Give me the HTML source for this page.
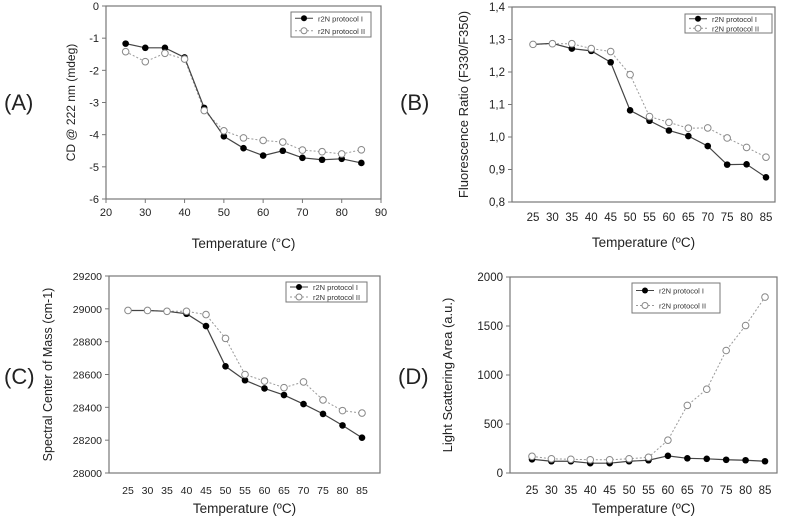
<!DOCTYPE html>
<html><head><meta charset="utf-8"><style>
body{margin:0;background:#fff;}
svg{display:block;font-family:"Liberation Sans",Arial,sans-serif;}
</style></head><body>
<svg id="fig" width="789" height="520" viewBox="0 0 789 520"></svg>
<script>
const temps = [25,30,35,40,45,50,55,60,65,70,75,80,85];
const aTicksY = [0,-1,-2,-3,-4,-5,-6];
const aTicksX = [20,30,40,50,60,70,80,90];
const aSeries1 = [-1.17,-1.3,-1.3,-1.6,-3.17,-4.05,-4.42,-4.65,-4.5,-4.72,-4.78,-4.75,-4.88];
const aSeries2 = [-1.42,-1.73,-1.47,-1.65,-3.25,-3.88,-4.1,-4.18,-4.23,-4.48,-4.53,-4.6,-4.47];
const bTicksY = ["1,4","1,3","1,2","1,1","1,0","0,9","0,8"];
const bSeries1 = [1.285,1.288,1.272,1.265,1.23,1.082,1.05,1.02,1.003,0.972,0.915,0.916,0.876];
const bSeries2 = [1.285,1.287,1.287,1.272,1.263,1.192,1.063,1.045,1.027,1.028,0.997,0.968,0.938];
const cTicksY = [29200,29000,28800,28600,28400,28200,28000];
const cSeries1 = [28990,28990,28985,28970,28895,28650,28565,28515,28475,28420,28360,28290,28215];
const cSeries2 = [28990,28990,28985,28985,28965,28820,28600,28560,28520,28555,28445,28380,28365];
const dTicksY = [2000,1500,1000,500,0];
const dSeries1 = [140,120,120,100,100,120,130,175,150,145,135,130,120];
const dSeries2 = [170,145,140,135,135,145,160,335,690,855,1250,1505,1795];
const seriesNames = ["r2N protocol I","r2N protocol II"];

const NS="http://www.w3.org/2000/svg";
const svg=document.getElementById('fig');
function mk(tag,attrs,parent,txt){const e=document.createElementNS(NS,tag);for(const k in attrs)e.setAttribute(k,attrs[k]);if(txt!==undefined)e.textContent=txt;(parent||svg).appendChild(e);return e;}

const panels=[
 {id:'a',label:'(A)',lx:4,ly:110,box:[106,6,381,199],ymin:-6,ymax:0,yt:aTicksY.map(v=>[v,String(v)]),
  xnum:true,xmin:20,xmax:90,xt:aTicksX,s1:aSeries1,s2:aSeries2,ytitle:'CD @ 222 nm (mdeg)',ytx:75,xtitle:'Temperature (°C)',xty:248,xtly:216,
  leg:[291,12,371,37],fs:11,tfs:12},
 {id:'b',label:'(B)',lx:400,ly:110,box:[512,7,775,202],ymin:0.8,ymax:1.4,yt:bTicksY.map(s=>[parseFloat(s.replace(',','.')),s]),
  xnum:false,x0:533,x1:766,s1:bSeries1,s2:bSeries2,ytitle:'Fluorescence Ratio (F330/F350)',ytx:468,xtitle:'Temperature (ºC)',xty:247,xtly:221,
  leg:[685,14,772,33],fs:11.5,tfs:13},
 {id:'c',label:'(C)',lx:4,ly:384,box:[109,276,380,473],ymin:28000,ymax:29200,yt:cTicksY.map(v=>[v,String(v)]),
  xnum:false,x0:128,x1:362,s1:cSeries1,s2:cSeries2,ytitle:'Spectral Center of Mass (cm-1)',ytx:52,xtitle:'Temperature (ºC)',xty:513,xtly:494,
  leg:[286,282,367,302],fs:10.5,tfs:12.5},
 {id:'d',label:'(D)',lx:398,ly:384,box:[510,277,777,473],ymin:0,ymax:2000,yt:dTicksY.map(v=>[v,String(v)]),
  xnum:false,x0:532,x1:765,s1:dSeries1,s2:dSeries2,ytitle:'Light Scattering Area (a.u.)',ytx:452,xtitle:'Temperature (ºC)',xty:513,xtly:494,
  leg:[632,283,720,313],fs:11.5,tfs:13}
];

panels.forEach(p=>{
 const g=mk('g',{});
 
 
 const [L,T,R,B]=p.box;
 const ys=v=>B-(v-p.ymin)/(p.ymax-p.ymin)*(B-T);
 const xs=p.xnum?(v=>L+(v-p.xmin)/(p.xmax-p.xmin)*(R-L)):(i=>p.x0+i*(p.x1-p.x0)/(temps.length-1));
 const xAt=i=>p.xnum?xs(temps[i]):xs(i);
 const lab=mk('text',{x:p.lx,y:p.ly,'font-size':22,fill:'#222'},g,p.label);
 
 
 const box=mk('rect',{x:L,y:T,width:R-L,height:B-T,fill:'none',stroke:'#777','stroke-width':1.2},g);
 
 
 p.yt.forEach(([v,s])=>{const y=ys(v);mk('line',{x1:L-4,x2:L,y1:y,y2:y,stroke:'#777'},g);
  const t=mk('text',{x:L-7,y:y+4,'font-size':p.fs,'text-anchor':'end',fill:'#222'},g,s);
  
  });
 if(p.xnum){p.xt.forEach(v=>{const x=xs(v);mk('line',{x1:x,x2:x,y1:B,y2:B+4,stroke:'#777'},g);
  const t=mk('text',{x:x,y:p.xtly,'font-size':p.fs,'text-anchor':'middle',fill:'#222'},g,String(v));
  
  });}
 else{temps.forEach((v,i)=>{const x=xs(i);
  const t=mk('text',{x:x,y:p.xtly,'font-size':p.fs,'text-anchor':'middle',fill:'#222'},g,String(v));
  
  });}
 const yt=mk('text',{x:0,y:0,'font-size':p.tfs,'text-anchor':'middle',fill:'#222',transform:`translate(${p.ytx},${(T+B)/2}) rotate(-90)`},g,p.ytitle);
 
 
 const xt=mk('text',{x:(L+R)/2,y:p.xty,'font-size':13.5,'text-anchor':'middle',fill:'#222'},g,p.xtitle);
 
 
 const pts2=p.s2.map((v,i)=>xAt(i)+','+ys(v)).join(' ');
 const l2=mk('polyline',{points:pts2,fill:'none',stroke:'#999','stroke-width':1,'stroke-dasharray':'2,2'},g);
 
 
 const pts1=p.s1.map((v,i)=>xAt(i)+','+ys(v)).join(' ');
 const l1=mk('polyline',{points:pts1,fill:'none',stroke:'#444','stroke-width':1.2},g);
 
 
 p.s1.forEach((v,i)=>{const c=mk('circle',{cx:xAt(i),cy:ys(v),r:3.3,fill:'#000'},g);
  
  });
 p.s2.forEach((v,i)=>{const c=mk('circle',{cx:xAt(i),cy:ys(v),r:3.3,fill:'#fff',stroke:'#888','stroke-width':1},g);
  
  });
 const [a,b,c2,d]=p.leg;
 const lg=mk('g',{},g);
 
 
 mk('rect',{x:a,y:b,width:c2-a,height:d-b,fill:'#fff',stroke:'#777'},lg);
 const h=(d-b)/2;
 [0,1].forEach(k=>{const y=b+h*(k+0.5);
  mk('line',{x1:a+4,x2:a+22,y1:y,y2:y,stroke:k?'#999':'#444','stroke-dasharray':k?'2,2':'none'},lg);
  mk('circle',{cx:a+13,cy:y,r:3,fill:k?'#fff':'#000',stroke:k?'#888':'none'},lg);
  const t=mk('text',{x:a+27,y:y+3,'font-size':7.5,fill:'#333'},lg,seriesNames[k]);
  
  });
});
</script>
</body></html>
